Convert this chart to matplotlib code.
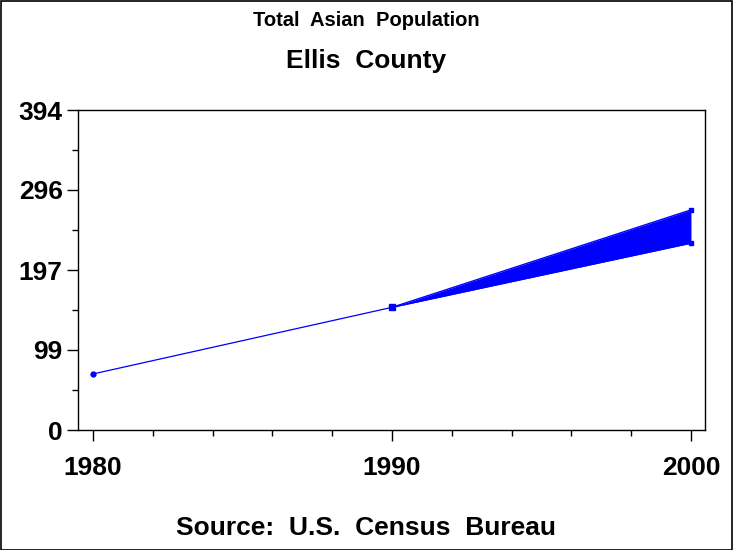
import matplotlib
matplotlib.use("Agg")
import matplotlib.pyplot as plt
from matplotlib.patches import Rectangle
from matplotlib.ticker import FixedLocator, MultipleLocator

# Data
years_hist = [1980, 1990]
pop_hist = [69, 151]
years_proj = [1990, 2000]
proj_high = [151, 271]
proj_low = [151, 230]
y_ticks = [0, 99, 197, 296, 394]
x_ticks = [1980, 1990, 2000]

plt.rcParams['font.family'] = ['Liberation Sans', 'DejaVu Sans']

fig = plt.figure(figsize=(7.33, 5.5), dpi=100)
ax = fig.add_axes([78/733, 120/550, (705-78)/733, 320/550])

blue = '#0000ff'
ax.plot(years_hist, pop_hist, color=blue, lw=0.9, marker='o', ms=3.5, mec=blue, mfc=blue)
ax.fill_between(years_proj, proj_low, proj_high, color=blue, lw=0)
ax.plot(years_proj, proj_high, color=blue, lw=1, marker='s', ms=2.5)
ax.plot(years_proj, proj_low, color=blue, lw=1, marker='s', ms=2.5)
ax.plot([years_proj[0]], [proj_low[0]], color=blue, marker='s', ms=4)

ax.set_xlim(1979.5, 2000.47)
ax.set_ylim(0, 394)
ax.xaxis.set_major_locator(FixedLocator(x_ticks))
ax.xaxis.set_minor_locator(MultipleLocator(2))
ax.yaxis.set_major_locator(FixedLocator(y_ticks))
mids = [(y_ticks[i] + y_ticks[i+1]) / 2 for i in range(len(y_ticks) - 1)]
ax.yaxis.set_minor_locator(FixedLocator(mids))

for s in ax.spines.values():
    s.set_linewidth(1.0)
ax.tick_params(axis='both', which='major', length=8, width=1, direction='out', labelsize=19)
ax.tick_params(axis='both', which='minor', length=4.5, width=1, direction='out')
ax.tick_params(axis='x', which='major', pad=11)
ax.tick_params(axis='y', which='major', pad=3)
for lab in ax.get_xticklabels() + ax.get_yticklabels():
    lab.set_fontweight('bold')

fig.text(0.5, 1 - 26/550, 'Total  Asian  Population', ha='center', va='baseline', fontsize=14.5, fontweight='bold')
fig.text(0.5, 1 - 68/550, 'Ellis  County', ha='center', va='baseline', fontsize=19, fontweight='bold')
fig.text(0.5, 1 - 535/550, 'Source:  U.S.  Census  Bureau', ha='center', va='baseline', fontsize=19, fontweight='bold')

fig.patches.append(Rectangle((0.5/733, 0.5/550), 1 - 1.5/733, 1 - 1.5/550, transform=fig.transFigure,
                             fill=False, edgecolor='black', lw=1.2))

fig.savefig('out.png', dpi=100)
